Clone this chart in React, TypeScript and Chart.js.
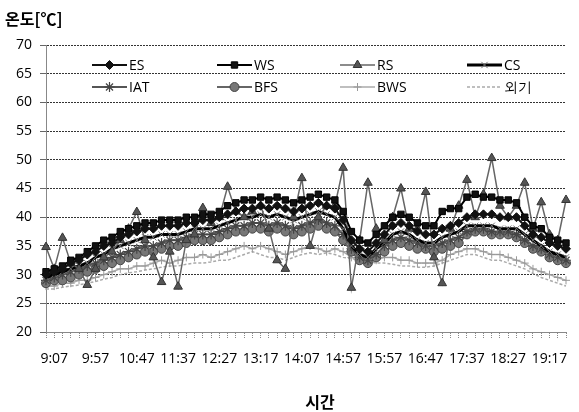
import React, { useEffect, useRef } from "react";
import { Chart, registerables } from "chart.js";
import { drawPoint } from "chart.js/helpers";

Chart.register(...registerables);

// category (time) labels, one per data point
const timeLabels = [
  "8:57", "9:07", "9:17", "9:27", "9:37", "9:47", "9:57", "10:07", "10:17", "10:27",
  "10:37", "10:47", "10:57", "11:07", "11:17", "11:27", "11:37", "11:47", "11:57", "12:07",
  "12:17", "12:27", "12:37", "12:47", "12:57", "13:07", "13:17", "13:27", "13:37", "13:47",
  "13:57", "14:07", "14:17", "14:27", "14:37", "14:47", "14:57", "15:09", "15:21", "15:33",
  "15:45", "15:57", "16:07", "16:17", "16:27", "16:37", "16:47", "16:57", "17:07", "17:17",
  "17:27", "17:37", "17:47", "17:57", "18:07", "18:17", "18:27", "18:37", "18:47", "18:57",
  "19:07", "19:17", "19:27", "19:37",
];

// tick labels shown on the x axis
const shownTicks = [
  "9:07", "9:57", "10:47", "11:37", "12:27", "13:17", "14:07",
  "14:57", "15:57", "16:47", "17:37", "18:27", "19:17",
];

const esValues = [
  30, 30.5, 31, 32, 32.5, 33.5, 34, 35, 35.5, 36.5, 37, 37.5, 38, 38, 38.5, 38.5, 38.5, 39, 39, 39.5,
  39.5, 40, 40.5, 41, 41.5, 41.5, 42, 41.5, 42, 41.5, 41, 41.5, 42, 42.5, 42, 41.5, 39.5, 36, 34.5, 34,
  35.5, 37, 38.5, 39, 38.5, 37.5, 37, 37, 38, 38.5, 39, 40, 40.5, 40.5, 40.5, 40, 40, 40, 38.5, 37,
  36.5, 35.5, 35, 34.5,
];
const wsValues = [
  30.5, 31, 31.5, 32.5, 33, 34, 35, 36, 36.5, 37.5, 38, 38.5, 39, 39, 39.5, 39.5, 39.5, 40, 40, 40.5,
  40.5, 41, 42, 42.5, 43, 43, 43.5, 43, 43.5, 43, 42.5, 43, 43.5, 44, 43.5, 43, 41, 37.5, 36, 35.5,
  37, 38.5, 40, 40.5, 40, 39, 38.5, 38.5, 41, 41.5, 41.5, 43.5, 44, 43.5, 43.5, 43, 43, 42.5, 40, 38.5,
  38, 36.5, 36, 35.5,
];
const rsValues = [
  34.8, 31, 36.4, 32, 31, 28.2, 31, 33, 34, 36, 38, 40.9, 36, 33, 28.7, 34, 27.9, 36, 37, 41.6,
  39, 40, 45.3, 41, 40, 41, 42, 38, 32.5, 31, 40, 46.8, 35, 40, 42, 42, 48.6, 27.7, 36, 46,
  38, 36, 40, 45, 38, 38, 44.4, 33, 28.5, 38, 42, 46.5, 40, 44, 50.3, 42, 40, 42, 46, 38,
  42.6, 37, 36, 43,
];
const csValues = [
  29.5, 30, 30.5, 31, 31.5, 32, 33, 33.5, 34.5, 35, 35.5, 36, 36.5, 36.5, 37, 37, 37, 37.5, 38, 38,
  38, 38.5, 39, 39.5, 40, 40, 40.5, 40, 40.5, 40, 39.5, 40, 40.5, 41, 40.5, 40, 38, 35, 33.5, 33,
  34.5, 35.5, 37, 37.5, 37, 36, 35.5, 35.5, 36.5, 37, 37.5, 38.5, 38.5, 38.5, 38.5, 38, 38, 38, 37, 36,
  35, 34, 33.5, 33,
];
const iatValues = [
  29, 29.5, 30, 30.5, 31, 31.5, 32, 32.5, 33, 33.5, 34, 34.5, 35, 35, 35.5, 36, 36, 36.5, 37, 37,
  37, 37.5, 38, 38.5, 38.5, 39, 39, 38.5, 39, 38.5, 38, 38.5, 39, 39.5, 39, 38.5, 37, 34.5, 33, 32.5,
  33.5, 35, 36, 36.5, 36, 35.5, 35, 35, 35.5, 36, 36.5, 37.5, 38, 38, 37.5, 37.5, 37.5, 37, 36, 35,
  34.5, 33.5, 33, 32.5,
];
const bfsValues = [
  28.5, 29, 29, 29.5, 30, 30.5, 31, 31.5, 32, 32.5, 33, 33.5, 34, 34, 34.5, 35, 35, 35.5, 36, 36,
  36, 36.5, 37, 37.5, 37.5, 38, 38, 37.5, 38, 37.5, 37, 37.5, 38, 38.5, 38, 37.5, 36, 34, 32.5, 32,
  33, 34, 35, 35.5, 35, 34.5, 34.5, 34, 34.5, 35, 35.5, 37, 37.5, 37.5, 37, 37, 37, 36.5, 35.5, 34.5,
  34, 33, 32.5, 32,
];
const bwsValues = [
  28, 28, 28.5, 28.5, 29, 29, 29.5, 30, 30.5, 31, 31, 31.5, 31.5, 32, 32.5, 32, 32.5, 33, 33, 33.5,
  33, 33.5, 34, 34.5, 35, 34.5, 35, 34.5, 34, 33.5, 34, 34.5, 35, 34.5, 34, 34.5, 34, 33, 32.5, 32,
  32.5, 33, 33, 32.5, 32.5, 32, 32, 32, 32.5, 33.5, 34, 34.5, 34.5, 34, 33.5, 33.5, 33, 32.5, 32, 31,
  30.5, 30, 29.5, 29,
];
const outdoorValues = [
  27.5, 27.5, 27.8, 28, 28.2, 28.5, 28.8, 29.2, 29.5, 30, 30.3, 30.5, 30.8, 31, 31.3, 31.5, 31.5, 31.8, 32, 32,
  32.2, 32.5, 32.5, 33, 33.5, 34, 33.5, 33, 33, 32.5, 33, 33.5, 33.8, 33.5, 33.8, 33.5, 33, 32.8, 32.5, 32.3,
  32, 32, 31.8, 31.5, 31.5, 31.3, 31.3, 31.5, 32, 32.5, 33, 33.5, 33.5, 33, 32.5, 32.5, 32, 31.5, 31, 30.2,
  29.5, 29, 28.5, 28,
];

const seriesNames = ["ES", "WS", "RS", "CS", "IAT", "BFS", "BWS", "외기"];

const yTitle = "온도[℃]";
const xTitle = "시간";

const FONT = '"Open Sans", "Noto Sans", sans-serif';

const legendPlugin = {
  id: "gridLegend",
  afterDraw(chart: any) {
    const ctx = chart.ctx;
    const cols = [92, 217, 340, 467];
    const rows = [65, 87];
    chart.data.datasets.forEach((ds: any, i: number) => {
      const x = cols[i % 4];
      const y = rows[Math.floor(i / 4)];
      ctx.save();
      ctx.strokeStyle = ds.borderColor;
      ctx.lineWidth = ds.borderWidth;
      ctx.setLineDash(ds.borderDash || []);
      ctx.beginPath();
      ctx.moveTo(x, y);
      ctx.lineTo(x + 35, y);
      ctx.stroke();
      ctx.setLineDash([]);
      if (ds.pointRadius > 0) {
        ctx.fillStyle = ds.pointBackgroundColor;
        ctx.strokeStyle = ds.pointBorderColor;
        ctx.lineWidth = ds.pointBorderWidth;
        drawPoint(
          ctx,
          { pointStyle: ds.pointStyle, radius: ds.pointRadius, borderWidth: ds.pointBorderWidth, rotation: 0 } as any,
          x + 17.5,
          y
        );
      }
      ctx.fillStyle = "#000";
      ctx.font = `14px ${FONT}`;
      ctx.textBaseline = "middle";
      ctx.textAlign = "left";
      ctx.fillText(ds.label, x + 37, y + 1);
      ctx.restore();
    });
  },
};

const titlePlugin = {
  id: "axisTitles",
  afterDraw(chart: any) {
    const ctx = chart.ctx;
    ctx.save();
    ctx.fillStyle = "#000";
    ctx.font = 'bold 16px "Noto Sans CJK KR", sans-serif';
    ctx.textBaseline = "middle";
    ctx.textAlign = "left";
    ctx.fillText(yTitle, 5, 19);
    ctx.textAlign = "center";
    ctx.fillText(xTitle, 320, 402);
    ctx.restore();
  },
};

export default function App() {
  const ref = useRef<HTMLCanvasElement | null>(null);

  useEffect(() => {
    document.body.style.margin = "0";
    if (!ref.current) return;
    const values = [esValues, wsValues, rsValues, csValues, iatValues, bfsValues, bwsValues, outdoorValues];
    const styles: any[] = [
      { borderColor: "#111", borderWidth: 2, pointStyle: "rectRot", pointRadius: 4.5, pointBackgroundColor: "#111", pointBorderColor: "#111", pointBorderWidth: 1 },
      { borderColor: "#000", borderWidth: 2, pointStyle: "rect", pointRadius: 4.5, pointBackgroundColor: "#111", pointBorderColor: "#000", pointBorderWidth: 1 },
      { borderColor: "#666", borderWidth: 1.5, pointStyle: "triangle", pointRadius: 5, pointBackgroundColor: "#555", pointBorderColor: "#333", pointBorderWidth: 1 },
      { borderColor: "#000", borderWidth: 3, pointStyle: "crossRot", pointRadius: 4.5, pointBackgroundColor: "#888", pointBorderColor: "#777", pointBorderWidth: 1 },
      { borderColor: "#555", borderWidth: 2, pointStyle: "star", pointRadius: 5, pointBackgroundColor: "#444", pointBorderColor: "#444", pointBorderWidth: 1.2 },
      { borderColor: "#666", borderWidth: 2, pointStyle: "circle", pointRadius: 4.5, pointBackgroundColor: "#777", pointBorderColor: "#444", pointBorderWidth: 1 },
      { borderColor: "#aaa", borderWidth: 1.5, pointStyle: "cross", pointRadius: 4, pointBackgroundColor: "#999", pointBorderColor: "#999", pointBorderWidth: 1 },
      { borderColor: "#aaa", borderWidth: 1.5, borderDash: [3, 2], pointStyle: "circle", pointRadius: 0, pointBackgroundColor: "#aaa", pointBorderColor: "#aaa", pointBorderWidth: 1 },
    ];
    const datasets = seriesNames.map((name, i) => ({
      label: name,
      data: values[i],
      tension: 0,
      fill: false,
      pointHoverRadius: styles[i].pointRadius,
      ...styles[i],
    }));

    const chart = new Chart(ref.current, {
      type: "line",
      data: { labels: timeLabels, datasets },
      options: {
        animation: false,
        responsive: false,
        events: [],
        layout: { padding: { top: 45, right: 1, left: 0, bottom: 0 } },
        plugins: {
          legend: { display: false },
          tooltip: { enabled: false },
          title: { display: false },
        },
        scales: {
          x: {
            type: "category",
            offset: false,
            grid: {
              drawOnChartArea: false,
              drawTicks: true,
              tickLength: 6,
              tickColor: "#888",
              tickBorderDash: [1, 1],
            },
            border: { display: true, color: "#888" },
            ticks: {
              autoSkip: false,
              maxRotation: 0,
              minRotation: 0,
              padding: 13,
              color: "#000",
              font: { family: FONT, size: 14 },
              callback: (_v: any, i: number) => (shownTicks.includes(timeLabels[i]) ? timeLabels[i] : ""),
            },
            afterFit: (scale: any) => {
              scale.height = 80;
            },
          },
          y: {
            min: 20,
            max: 70,
            ticks: {
              stepSize: 5,
              padding: 8,
              color: "#000",
              font: { family: FONT, size: 14 },
            },
            grid: { color: "#333", tickLength: 6, tickColor: "#666" },
            border: { display: true, color: "#888", dash: [2, 1] },
            afterFit: (scale: any) => {
              scale.width = 46;
            },
          },
        },
      } as any,
      plugins: [legendPlugin, titlePlugin],
    });
    return () => chart.destroy();
  }, []);

  return (
    <div style={{ width: 579, height: 412 }}>
      <canvas ref={ref} width={579} height={412} style={{ display: "block" }} />
    </div>
  );
}
